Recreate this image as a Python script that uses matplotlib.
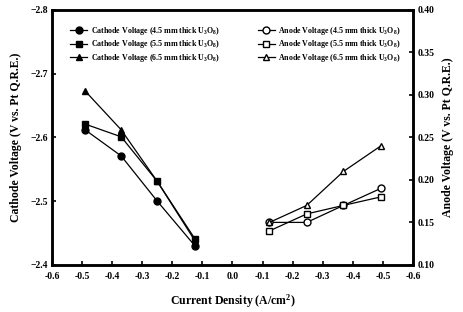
import matplotlib
matplotlib.use("Agg")
import matplotlib.pyplot as plt
import numpy as np

plt.rcParams['font.family'] = 'Liberation Serif'
plt.rcParams['font.weight'] = 'bold'
plt.rcParams['mathtext.fontset'] = 'custom'
plt.rcParams['mathtext.rm'] = 'Liberation Serif:bold'
plt.rcParams['mathtext.it'] = 'Liberation Serif:bold'

# current density (A/cm2)
current = [-0.49, -0.37, -0.25, -0.125]

# cathode voltage (V vs Pt QRE)
cath_45 = [-2.612, -2.571, -2.500, -2.430]
cath_55 = [-2.621, -2.601, -2.531, -2.441]
cath_65 = [-2.673, -2.612, -2.531, -2.438]

# anode voltage (V vs Pt QRE), same current densities
anode_current = [-0.123, -0.247, -0.369, -0.493]
an_45 = [0.15, 0.15, 0.17, 0.19]
an_55 = [0.14, 0.16, 0.17, 0.18]
an_65 = [0.15, 0.17, 0.21, 0.24]

xticks = [-0.6, -0.5, -0.4, -0.3, -0.2, -0.1, 0.0, 0.1, 0.2, 0.3, 0.4, 0.5, 0.6]

fig = plt.figure(figsize=(4.64, 3.12), dpi=100)
ax = fig.add_axes([0.112, 0.151, 0.778, 0.817])
ax2 = ax.twinx()

kw = dict(color='black', lw=0.9, ms=5)
ax.plot(current, cath_45, marker='o', label='Cathode Voltage (4.5 mm thick U$_3$O$_8$)', **kw)
ax.plot(current, cath_55, marker='s', label='Cathode Voltage (5.5 mm thick U$_3$O$_8$)', **kw)
ax.plot(current, cath_65, marker='^', label='Cathode Voltage (6.5 mm thick U$_3$O$_8$)', **kw)

ax_x = [-c for c in anode_current]
kw2 = dict(color='black', lw=0.9, ms=5, mfc='white')
ax2.plot(ax_x, an_45, marker='o', label='Anode Voltage (4.5 mm thick U$_3$O$_8$)', **kw2)
ax2.plot(ax_x, an_55, marker='s', label='Anode Voltage (5.5 mm thick U$_3$O$_8$)', **kw2)
ax2.plot(ax_x, an_65, marker='^', label='Anode Voltage (6.5 mm thick U$_3$O$_8$)', **kw2)

ax.set_xlim(-0.6, 0.6)
ax.set_ylim(-2.4, -2.8)
ax2.set_ylim(0.10, 0.40)
ax.set_xticks(xticks)
ax.set_xticklabels([f"{-abs(t):.1f}" if abs(t) > 1e-9 else "0.0" for t in xticks])
ax.set_yticks([-2.8, -2.7, -2.6, -2.5, -2.4])
ax2.set_yticks([0.10, 0.15, 0.20, 0.25, 0.30, 0.35, 0.40])
ax2.set_yticklabels([f"{v:.2f}" for v in [0.10, 0.15, 0.20, 0.25, 0.30, 0.35, 0.40]])

for a in (ax, ax2):
    a.tick_params(direction='in', length=3, width=1.2, labelsize=7, pad=3)
    for s in a.spines.values():
        s.set_linewidth(1.8)
ax.tick_params(axis='x', pad=5)

ax.set_xlabel('Current Density (A/cm$^2$)', fontsize=8.5, fontweight='bold', labelpad=8)
ax.set_ylabel('Cathode Voltage (V vs. Pt Q.R.E.)', fontsize=8.5, fontweight='bold', labelpad=6)
ax2.set_ylabel('Anode Voltage (V vs. Pt Q.R.E.)', fontsize=8.5, fontweight='bold', labelpad=6)

lg_kw = dict(frameon=False, handlelength=2.2, labelspacing=0.2, handletextpad=0.4,
             prop={'weight': 'bold', 'size': 5.7})
ax.legend(loc='upper left', bbox_to_anchor=(0.03, 0.97), **lg_kw)
ax2.legend(loc='upper left', bbox_to_anchor=(0.55, 0.97), **lg_kw)

fig.savefig('out.png', dpi=100)
